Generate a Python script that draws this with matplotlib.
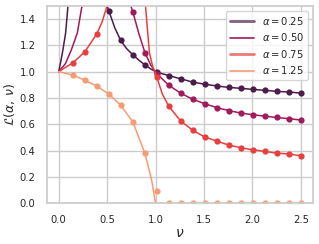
import numpy as np
import matplotlib
matplotlib.use('Agg')
import matplotlib.pyplot as plt
import seaborn as sns
from matplotlib.lines import Line2D

sns.set_theme(style='whitegrid')
plt.rcParams['font.family'] = ['DejaVu Sans']

nan = np.nan

# valores
alphas = [0.25, 0.50, 0.75, 1.25]
rotulos = [r'$\alpha = 0.25$', r'$\alpha = 0.50$', r'$\alpha = 0.75$', r'$\alpha = 1.25$']

# pontos (marcadores)
nu_pts = [0.15, 0.27, 0.395, 0.52, 0.64, 0.766, 0.89, 1.013, 1.137, 1.26,
          1.384, 1.508, 1.632, 1.756, 1.879, 2.003, 2.127, 2.251, 2.374, 2.498]
pts_025 = [nan, nan, nan, 1.456, 1.236, 1.127, 1.051, 0.995, 0.970, 0.945,
           0.920, 0.904, 0.891, 0.880, 0.873, 0.865, 0.858, 0.850, 0.845, 0.837]
pts_050 = [nan, nan, nan, nan, nan, 1.451, 1.144, 0.985, 0.896, 0.836,
           0.790, 0.756, 0.727, 0.704, 0.686, 0.673, 0.662, 0.652, 0.643, 0.633]
pts_075 = [1.068, 1.150, 1.287, nan, nan, nan, nan, 0.957, 0.737, 0.625,
           0.555, 0.504, 0.473, 0.443, 0.423, 0.407, 0.395, 0.382, 0.375, 0.362]
pts_125 = [0.972, 0.935, 0.889, 0.828, 0.745, 0.618, 0.380, 0.093, 0.0, 0.0,
           0.0, 0.0, 0.0, 0.0, 0.0, 0.0, 0.0, 0.0, 0.0, 0.0]

# curvas (linhas), nan separa os ramos
nu_lin_025 = [0, 0.02, 0.044, 0.072, 0.096, 0.11, nan, 0.48, 0.50, 0.52, 0.58, 0.64,
              0.70, 0.766, 0.83, 0.89, 0.95, 1.013, 1.137, 1.26, 1.384, 1.508, 1.632,
              1.756, 1.879, 2.003, 2.127, 2.251, 2.374, 2.498]
lin_025 = [1.0, 1.07, 1.165, 1.294, 1.5, 1.62, nan, 1.56, 1.50, 1.456, 1.33, 1.236,
           1.175, 1.127, 1.085, 1.051, 1.02, 0.995, 0.970, 0.945, 0.920, 0.904, 0.891,
           0.880, 0.873, 0.865, 0.858, 0.850, 0.845, 0.837]
nu_lin_050 = [0, 0.07, 0.131, 0.193, 0.241, 0.26, nan, 0.73, 0.744, 0.766, 0.827, 0.89,
              0.95, 1.013, 1.137, 1.26, 1.384, 1.508, 1.632, 1.756, 1.879, 2.003, 2.127,
              2.251, 2.374, 2.498]
lin_050 = [1.0, 1.06, 1.165, 1.294, 1.5, 1.6, nan, 1.56, 1.5, 1.451, 1.29, 1.144,
           1.05, 0.985, 0.896, 0.836, 0.790, 0.756, 0.727, 0.704, 0.686, 0.673, 0.662,
           0.652, 0.643, 0.633]
nu_lin_075 = [0, 0.15, 0.27, 0.395, 0.45, 0.50, 0.52, nan, 0.89, 0.896, 0.937, 0.97,
              1.013, 1.07, 1.137, 1.26, 1.384, 1.508, 1.632, 1.756, 1.879, 2.003, 2.127,
              2.251, 2.374, 2.498]
lin_075 = [1.0, 1.068, 1.150, 1.287, 1.38, 1.5, 1.56, nan, 1.56, 1.5, 1.142, 1.04,
           0.957, 0.83, 0.737, 0.625, 0.555, 0.504, 0.473, 0.443, 0.423, 0.407, 0.395,
           0.382, 0.375, 0.362]
nu_lin_125 = [0, 0.15, 0.27, 0.395, 0.52, 0.64, 0.766, 0.89, 0.96, 1.0, 2.5]
lin_125 = [1.0, 0.972, 0.935, 0.889, 0.828, 0.745, 0.618, 0.380, 0.177, 0.0, 0.0]

cores = sns.color_palette('rocket', 4)

fig = plt.figure(figsize=(3.19, 2.44), dpi=100)
ax = fig.add_axes([0.146, 0.166, 0.835, 0.811])

linhas = [(nu_lin_025, lin_025), (nu_lin_050, lin_050), (nu_lin_075, lin_075), (nu_lin_125, lin_125)]
pontos = [pts_025, pts_050, pts_075, pts_125]
for (x, y), p, c in zip(linhas, pontos, cores):
    ax.plot(x, y, color=c, lw=1.1)
    ax.plot(nu_pts, p, 'o', color=c, ms=4.5, mew=0, lw=0)

ax.set_xlim(-0.125, 2.625)
ax.set_ylim(0, 1.5)
ax.set_xticks([0.0, 0.5, 1.0, 1.5, 2.0, 2.5])
ax.set_yticks([0.0, 0.2, 0.4, 0.6, 0.8, 1.0, 1.2, 1.4])
ax.tick_params(labelsize=7.2, pad=2)
ax.set_xlabel(r'$\nu$', fontsize=10, labelpad=1)
ax.set_ylabel(r'$\mathcal{L}(\alpha,\, \nu)$', fontsize=9, labelpad=2)

# legenda com traços como no original
estilos = [(2.0, 0.7), (1.2, 1.0), (2.0, 0.7), (1.2, 1.0)]
handles = [Line2D([0], [0], color=c, lw=lw, alpha=a) for c, (lw, a) in zip(cores, estilos)]
ax.legend(handles, rotulos, loc='upper right', fontsize=7.2, handlelength=2.4,
          labelspacing=0.45, borderpad=0.4)

fig.savefig('out.png', dpi=100)
